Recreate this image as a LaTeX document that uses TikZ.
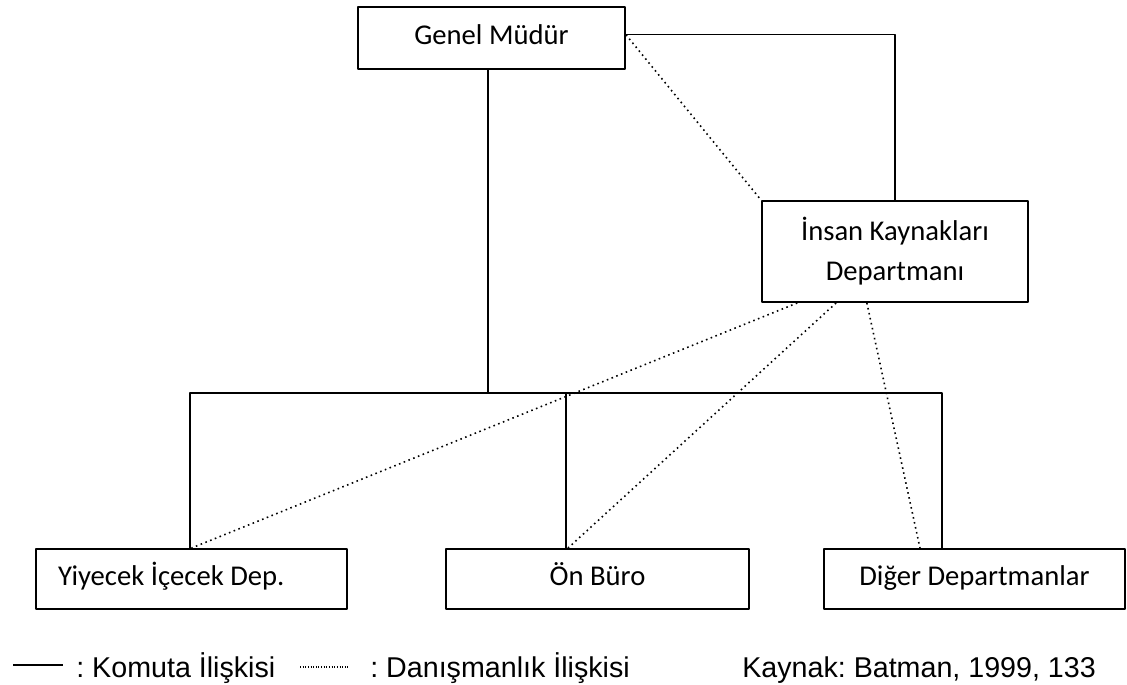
\documentclass[tikz,border=0pt]{standalone}
\usepackage{fontspec}
\setmainfont{Carlito}
\newfontfamily\legendfont{Liberation Sans}
\usetikzlibrary{calc}
\frenchspacing
\begin{document}
\begin{tikzpicture}[x=0.02cm, y=-0.02cm, line join=round,
  kutu/.style={draw, line width=1.1pt, inner sep=0pt, font=\fontsize{16.3}{22.7}\selectfont},
  tekkutu/.style={kutu, text height=0.95em, text depth=0.25em},
  komuta/.style={line width=0.75pt},
  danis/.style={line width=0.9pt, dotted},
  aciklama/.style={anchor=base west, inner sep=0pt, font=\legendfont\fontsize{16.3}{20}\selectfont}]
\def\u{0.02cm}
\useasboundingbox (0,0) rectangle (1127,684);
% kutular
\node[tekkutu, minimum width=267*\u, minimum height=62*\u] (gm) at (491.5,38) {Genel Müdür};
\node[kutu, align=center, minimum width=266*\u, minimum height=101*\u] (ik) at (895,251.5) {İnsan Kaynakları\\Departmanı};
\node[tekkutu, minimum width=311*\u, minimum height=60*\u] (yd) at (191.5,579) {\hbox to 5.34cm{Yiyecek İçecek Dep.\hfil}};
\node[tekkutu, minimum width=303*\u, minimum height=60*\u] (ob) at (597.5,579) {Ön Büro};
\node[tekkutu, minimum width=301*\u, minimum height=60*\u] (dd) at (974.5,579) {Diğer Departmanlar};
% komuta hatlari
\path (190,393) coordinate (b1) (488,393) coordinate (b0) (566,393) coordinate (b2) (942,393) coordinate (b3);
\coordinate (g1) at ($(gm.north east)!0.45!(gm.south east)$);
\draw[komuta] (gm.south -| b0) -- (b0);
\draw[komuta] (b1 |- yd.north) -- (b1) -- (b3) -- (b3 |- dd.north);
\draw[komuta] (b2) -- (b2 |- ob.north);
\draw[komuta] (g1) -| (ik.north);
% danismanlik hatlari
\draw[danis] (g1) -- (ik.north west);
\draw[danis] ($(ik.south west)!0.135!(ik.south east)$) -- (yd.north);
\draw[danis] ($(ik.south west)!0.28!(ik.south east)$) -- ($(b2 |- ob.north)+(2,0)$);
\draw[danis] ($(ik.south west)!0.395!(ik.south east)$) -- ($(b3 |- dd.north)+(-22,0)$);
% aciklama
\draw[komuta] (13,665) -- (63,665);
\node[aciklama] (l1) at (76,677) {: Komuta İlişkisi};
\draw[danis, line width=0.6pt, dash pattern=on 0.3pt off 1.2pt] (300,667) -- (350,667);
\node[aciklama] (l2) at (370,677) {: Danışmanlık İlişkisi};
\node[aciklama] (l3) at (742,677) {Kaynak: Batman, 1999, 133};
\end{tikzpicture}
\end{document}
